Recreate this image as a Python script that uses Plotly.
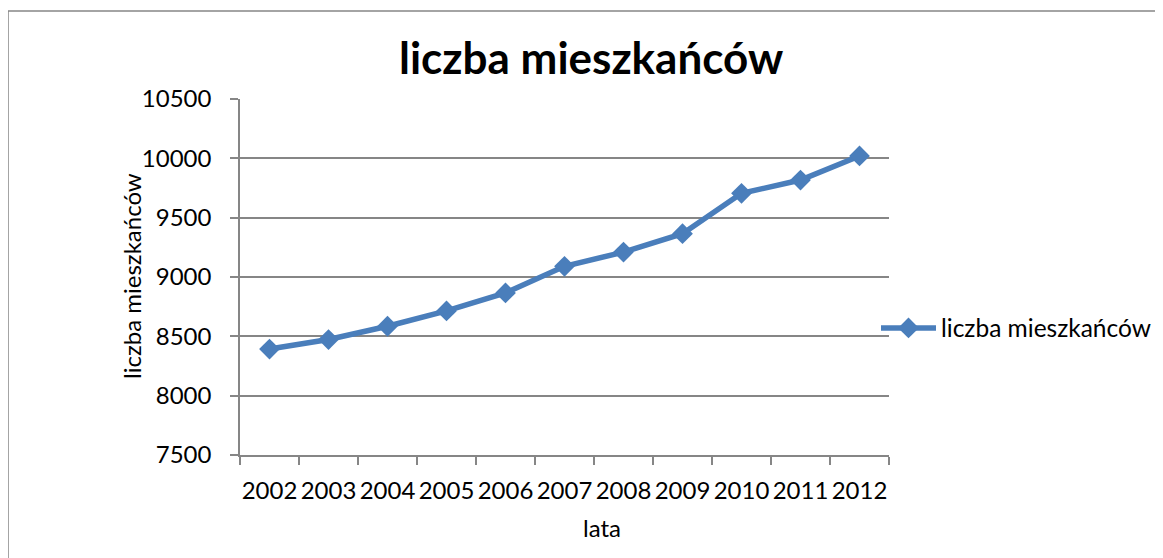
import plotly.graph_objects as go

years = ["2002", "2003", "2004", "2005", "2006", "2007", "2008", "2009", "2010", "2011", "2012"]
residents = [8393, 8473, 8585, 8714, 8866, 9090, 9210, 9365, 9705, 9817, 10020]
series_name = "liczba mieszkańców"
title_text = "liczba mieszkańców"
x_title = "lata"
y_title = "liczba mieszkańców"

OFF = 8  # default page body margin
W, H = 1163 - OFF, 558 - OFF
L, R, T, B = 240 - OFF, 1163 - 889, 99 - OFF, 558 - 455
pw, ph = W - L - R, H - T - B

def px(x):
    return (x - OFF - L) / pw

def py(y):
    return (H - B - (y - OFF)) / ph

FONT = "Lato, Carlito, Calibri, sans-serif"
GRID = "#868686"
BLUE = "#4A7EBB"

fig = go.Figure()
fig.add_trace(go.Scatter(
    x=years, y=residents, name=series_name, mode="lines+markers",
    line=dict(color=BLUE, width=5.5),
    marker=dict(symbol="diamond", size=16, color=BLUE),
))

fig.update_layout(
    width=W, height=H,
    margin=dict(l=L, r=R, t=T, b=B, autoexpand=False),
    paper_bgcolor="white", plot_bgcolor="white",
    font=dict(family=FONT, size=24, color="black"),
    showlegend=True,
    legend=dict(x=px(876), y=py(328), xanchor="left", yanchor="middle",
                font=dict(size=24.5), itemwidth=55, bgcolor="rgba(0,0,0,0)",
                tracegroupgap=0),
    xaxis=dict(type="category", range=[-0.5, 10.5], showgrid=False,
               showline=True, linecolor=GRID, linewidth=1.5,
               ticks="outside", tickson="boundaries", ticklen=8, tickcolor=GRID, tickwidth=1.5,
               tickangle=0, tickfont=dict(size=24), ticklabelstandoff=13, fixedrange=True),
    yaxis=dict(range=[7500, 10500], dtick=500, tick0=7500, tickformat="d",
               showgrid=True, gridcolor=GRID, gridwidth=1.5,
               showline=True, linecolor=GRID, linewidth=1.5, zeroline=False,
               ticks="outside", ticklen=8, tickcolor=GRID, tickwidth=1.5,
               tickfont=dict(size=24), ticklabelstandoff=14, fixedrange=True),
    annotations=[
        dict(text="<b>" + title_text + "</b>", x=px(591), y=py(57), xref="paper", yref="paper",
             showarrow=False, font=dict(size=44), xanchor="center", yanchor="middle"),
        dict(text=x_title, x=px(602), y=py(527), xref="paper", yref="paper",
             showarrow=False, font=dict(size=24), xanchor="center", yanchor="middle"),
        dict(text=y_title, x=px(131), y=py(276), xref="paper", yref="paper", textangle=-90,
             showarrow=False, font=dict(size=24), xanchor="center", yanchor="middle"),
    ],
    shapes=[
        dict(type="rect", xref="paper", yref="paper", x0=px(8), y0=py(620), x1=px(1220), y1=py(11),
             line=dict(color=GRID, width=1.5), layer="below"),
    ],
)

fig.write_html("out.html")
